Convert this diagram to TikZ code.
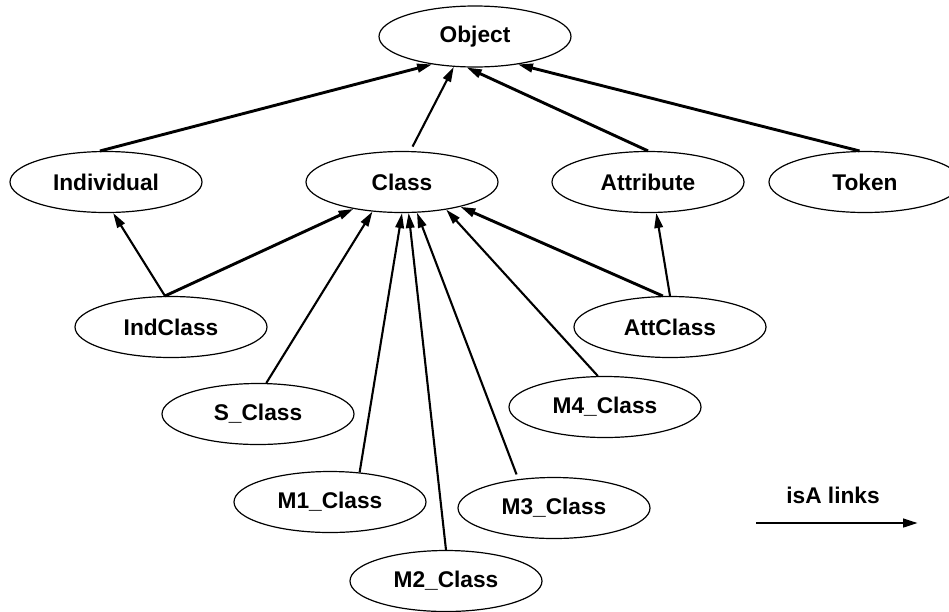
\documentclass[tikz,border=0pt]{standalone}
\usepackage{fontspec}
\setmainfont{Liberation Sans}
\usetikzlibrary{arrows.meta,shapes.geometric}
\begin{document}
\begin{tikzpicture}[x=1pt,y=-1pt,
  cls/.style={ellipse,draw,line width=1.2pt,minimum width=192pt,minimum height=61pt,
    inner sep=0pt,font=\fontsize{22.7}{26}\selectfont\bfseries},
  isa/.style={line width=2.1pt,-{Triangle[length=15pt,width=8.5pt]}},
  isathick/.style={isa,line width=2.9pt}]
\useasboundingbox (0,0) rectangle (949,611);

% class hierarchy
\node[cls] (obj)  at (475,36.5) {Object};
\node[cls] (ind)  at (106,182)  {Individual};
\node[cls] (cla)  at (402,182)  {Class};
\node[cls] (att)  at (648,182)  {Attribute};
\node[cls] (tok)  at (865,182)  {Token};
\node[cls] (indc) at (171,327)  {IndClass};
\node[cls] (attc) at (670,327)  {AttClass};
\node[cls] (scl)  at (258,414)  {S\_Class};
\node[cls] (m4)   at (605,407)  {M4\_Class};
\node[cls] (m1)   at (330,502)  {M1\_Class};
\node[cls] (m3)   at (554,508)  {M3\_Class};
\node[cls] (m2)   at (446,581)  {M2\_Class};

% isA links
\draw[isathick] (ind.101) -- (obj.213);
\draw[isa, shorten <=5pt] (cla.75) -- (obj.235);
\draw[isathick] (att.90) -- (obj.255);
\draw[isathick] (tok.100) -- (obj.327);

\draw[isa] (indc.101) -- (ind.283);
\draw[isathick] (indc.101) -- (cla.209);
\draw[isa] (scl.75) -- (cla.225);
\draw[isa] (m1.45) -- (cla.270);
\draw[isa] (m2.90) -- (cla.282);
\draw[isa, shorten <=5pt] (m3.141) -- (cla.296);
\draw[isa] (m4.103) -- (cla.328);
\draw[isathick] (attc.103) -- (cla.337);
\draw[isa] (attc.90) -- (att.285);

% legend
\node[font=\fontsize{22.7}{26}\selectfont\bfseries] (lgd) at (833,495) {isA links};
\coordinate (lgda) at (756,523);
\coordinate (lgdb) at (918,523);
\draw[isathick] (lgda) -- (lgdb);
\end{tikzpicture}
\end{document}
